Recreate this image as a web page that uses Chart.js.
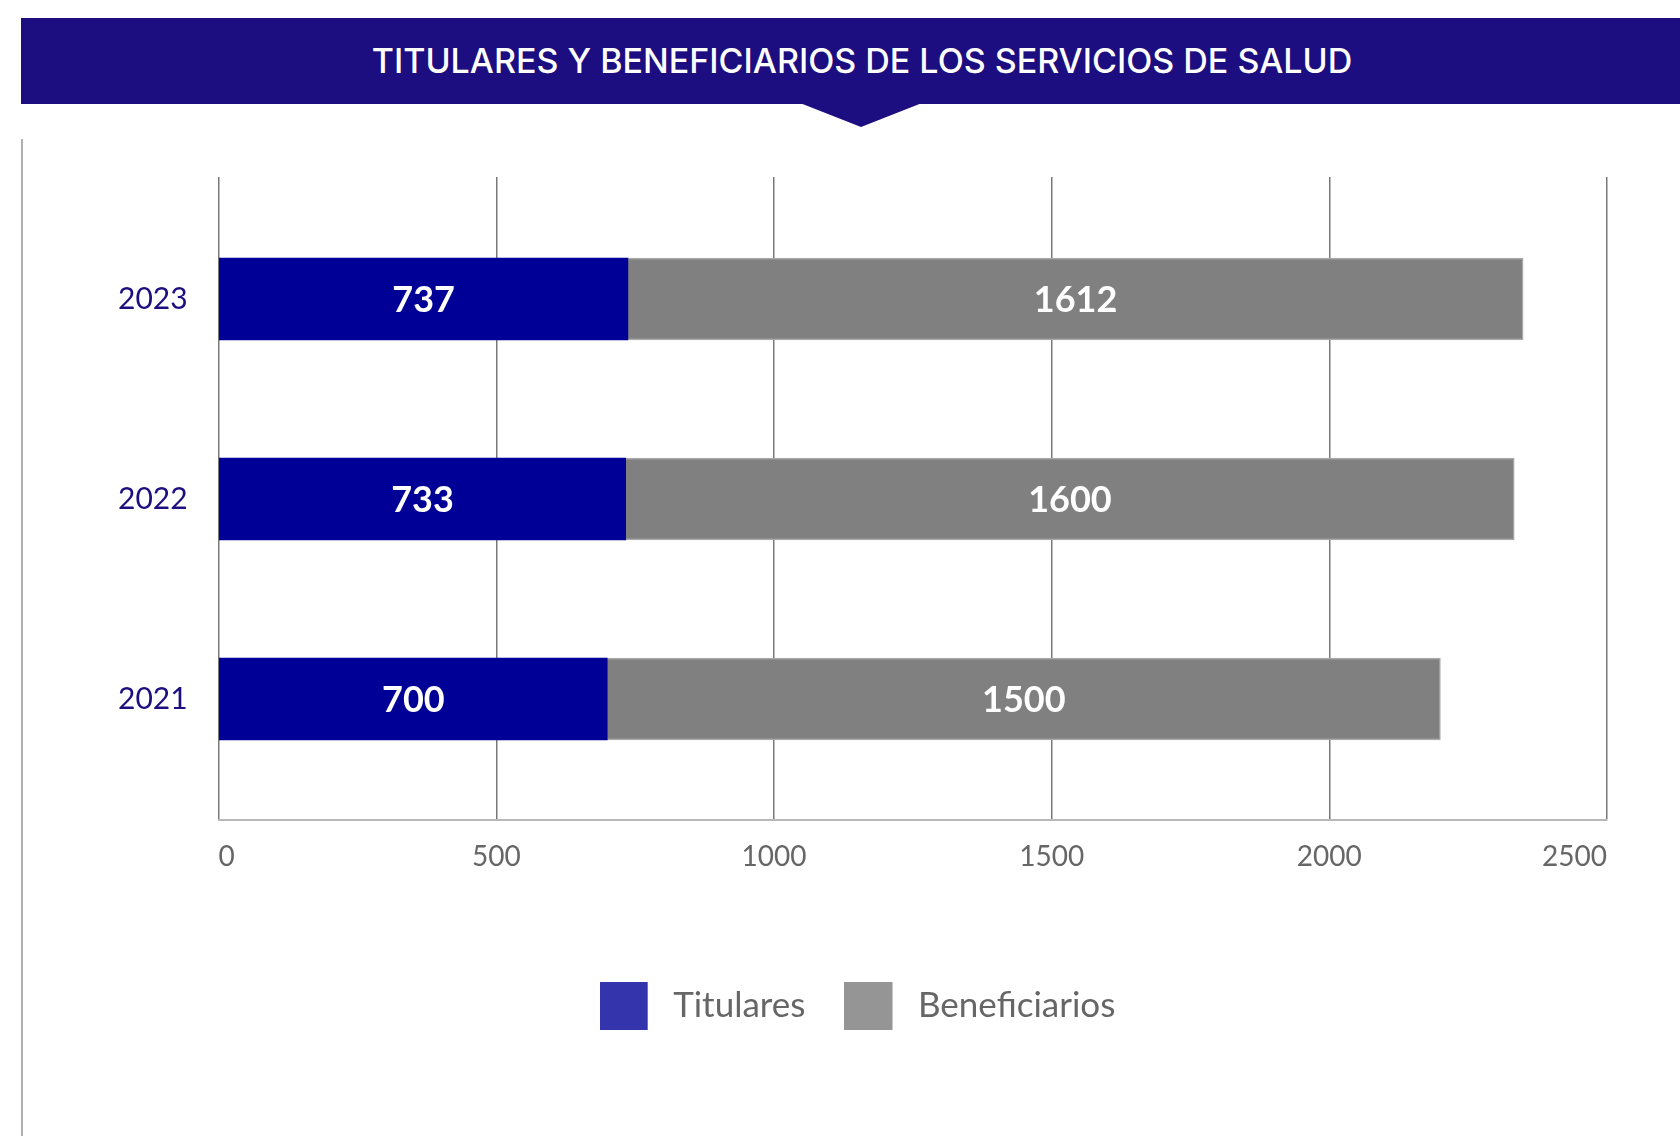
<!DOCTYPE html>
<html>
<head>
<meta charset="utf-8">
<script src="https://cdn.jsdelivr.net/npm/chart.js@4.4.1/dist/chart.umd.min.js"></script>
<style>
html,body{margin:0;padding:0;background:#fff;width:1680px;height:1136px;overflow:hidden;font-family:Lato,"Noto Sans",sans-serif;}
#banner{position:absolute;left:21px;top:18px;width:1659px;height:86px;background:#1c0e80;}
#arrow{position:absolute;left:800px;top:103px;width:0;height:0;border-left:61px solid transparent;border-right:61px solid transparent;border-top:24px solid #1c0e80;}
#title{position:absolute;left:0;top:18px;width:1724px;height:86px;line-height:86px;text-align:center;color:#fff;font-family:Inter,sans-serif;font-weight:500;font-size:34px;}
#vline{position:absolute;left:21px;top:139px;width:2px;height:997px;background:#b0b0b0;}
#wrap{position:absolute;left:22px;top:140px;width:1658px;height:996px;}
</style>
</head>
<body>
<div id="banner"></div>
<div id="arrow"></div>
<div id="title">TITULARES Y BENEFICIARIOS DE LOS SERVICIOS DE SALUD</div>
<div id="vline"></div>
<div id="wrap"><canvas id="c" width="1658" height="996"></canvas></div>
<script>
const years = ['2023', '2022', '2021'];
const titulares = [737, 733, 700];
const beneficiarios = [1612, 1600, 1500];
const xTicks = [0, 500, 1000, 1500, 2000, 2500];
const xTickLabels = ['0', '500', '1000', '1500', '2000', '2500'];
const seriesNames = ['Titulares', 'Beneficiarios'];
const barColors = ['#000096', '#808080'];
const barBorders = ['#000096', '#a9a9a9'];
const legendColors = ['#3434ad', '#959595'];

const valueLabels = {
  id: 'valueLabels',
  afterDatasetsDraw(chart) {
    const ctx = chart.ctx;
    ctx.save();
    ctx.font = 'bold 36px Lato';
    ctx.fillStyle = '#ffffff';
    ctx.textAlign = 'center';
    ctx.textBaseline = 'middle';
    chart.data.datasets.forEach((ds, di) => {
      const meta = chart.getDatasetMeta(di);
      meta.data.forEach((el, i) => {
        const p = el.getProps(['x', 'y', 'base'], true);
        ctx.fillText(String(ds.data[i].x), (p.x + p.base) / 2, p.y + 1);
      });
    });
    ctx.restore();
  }
};

function legendSwatch(color) {
  const c = document.createElement('canvas');
  c.width = 56; c.height = 48;
  const g = c.getContext('2d');
  g.fillStyle = color;
  g.fillRect(0, 0, 48, 48);
  return c;
}

function draw() {
  new Chart(document.getElementById('c'), {
    type: 'bar',
    data: {
      datasets: [
        { label: seriesNames[0], data: titulares.map((v, i) => ({ x: v, y: i })), backgroundColor: barColors[0], borderColor: barBorders[0], borderWidth: 0, barThickness: 82 },
        { label: seriesNames[1], data: beneficiarios.map((v, i) => ({ x: v, y: i })), backgroundColor: barColors[1], borderColor: barBorders[1], borderWidth: 1.5, barThickness: 82 }
      ]
    },
    options: {
      indexAxis: 'y',
      responsive: false,
      maintainAspectRatio: false,
      animation: false,
      layout: { padding: { left: 86, right: 73, top: 37, bottom: 103 } },
      scales: {
        x: {
          type: 'linear', stacked: true, min: 0, max: 2500,
          afterBuildTicks: s => { s.ticks = xTicks.map(v => ({ value: v })); },
          grid: { color: '#787878', lineWidth: 1.5, drawTicks: false },
          border: { display: true, color: '#b8b8b8', width: 2 },
          ticks: { align: 'inner', padding: 20, color: '#666666', font: { family: 'Lato', size: 28 },
                   callback: (v, i) => xTickLabels[i] },
          afterFit: s => { s.height = 129; s.paddingTop = 0; s.paddingBottom = 0; }
        },
        y: {
          type: 'linear', stacked: true, reverse: true, offset: false, min: -0.61, max: 2.605,
          afterBuildTicks: s => { s.ticks = years.map((_, i) => ({ value: i })); },
          ticks: { callback: v => years[v], color: '#1c0e80', font: { family: 'Lato', size: 30 }, padding: 31 },
          grid: { display: false, drawTicks: false },
          border: { display: false },
          afterFit: s => { s.width = 110.6; s.paddingTop = 0; s.paddingBottom = 0; }
        }
      },
      plugins: {
        tooltip: { enabled: false },
        legend: {
          position: 'bottom', align: 'center',
          labels: {
            usePointStyle: true, pointStyleWidth: 56, boxHeight: 35,
            padding: 39, color: '#666666',
            font: { family: 'Lato', size: 35 },
            generateLabels: chart => chart.data.datasets.map((ds, i) => ({
              text: ds.label, fillStyle: legendColors[i], strokeStyle: legendColors[i],
              pointStyle: legendSwatch(legendColors[i]),
              lineWidth: 0, hidden: false, datasetIndex: i, fontColor: '#666666'
            }))
          }
        }
      }
    },
    plugins: [valueLabels]
  });
}
if (document.fonts && document.fonts.load) {
  Promise.all([document.fonts.load('35px Lato'), document.fonts.load('bold 36px Lato'), document.fonts.load('500 34px Inter')]).then(draw, draw);
} else { draw(); }
</script>
</body>
</html>
